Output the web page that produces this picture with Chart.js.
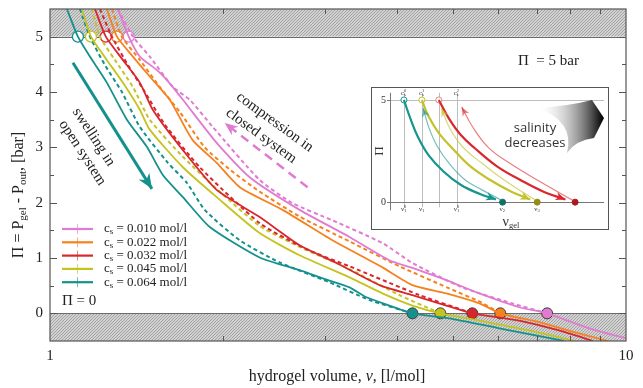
<!DOCTYPE html>
<html>
<head>
<meta charset="utf-8">
<script src="https://cdn.jsdelivr.net/npm/chart.js@4.4.1/dist/chart.umd.min.js"></script>
<style>
  html, body { margin: 0; padding: 0; background: #fff; }
  #wrap { position: relative; width: 643px; height: 388px; }
  #inset { position: absolute; left: 371px; top: 87px; }
</style>
</head>
<body>
<div id="wrap">
  <canvas id="mainChart" width="643" height="388"></canvas>
  <canvas id="inset" width="238" height="143"></canvas>
</div>
<script>
const SERIF = '"Liberation Serif", "DejaVu Serif", serif';
const SANS = '"Open Sans", "Noto Sans", sans-serif';

// salt concentration of each series, mol/l
const saltLabels = ['0.010', '0.022', '0.032', '0.045', '0.064'];
const lineColors = ['#e07bd0', '#f5821f', '#d9262c', '#c4c320', '#15918d'];

// swelling in open system (solid lines): [volume l/mol, Pi bar]
const swell010 = [[1.312,5.5],[1.37,5.0],[1.432,4.64],[1.532,4.4],[1.595,4.22],[1.701,3.86],[1.947,3.08],[2.222,2.46],[2.712,1.87],[3.311,1.38],[3.884,0.96],[4.258,0.82],[4.876,0.6],[5.563,0.36],[6.526,0.11],[7.296,0],[8.629,-0.27],[10,-0.45]];
const swell022 = [[1.255,5.5],[1.307,5.0],[1.393,4.64],[1.49,4.28],[1.614,3.86],[1.769,3.13],[1.947,2.72],[2.135,2.28],[2.534,1.87],[3.094,1.32],[3.777,0.83],[4.258,0.51],[4.876,0.36],[5.563,0.18],[6.05,0],[7.067,-0.16],[8.126,-0.34],[9.307,-0.5]];
const swell032 = [[1.197,5.5],[1.25,5.0],[1.338,4.58],[1.432,4.17],[1.508,3.68],[1.701,2.95],[1.947,2.23],[2.312,1.74],[2.712,1.23],[3.143,0.91],[3.732,0.51],[4.258,0.33],[4.876,0.14],[5.41,0],[6.526,-0.13],[7.655,-0.31],[8.767,-0.5]];
const swell045 = [[1.136,5.5],[1.178,5.0],[1.255,4.58],[1.338,4.17],[1.432,3.68],[1.49,3.32],[1.701,2.64],[1.947,2.1],[2.312,1.45],[2.712,1.05],[3.311,0.65],[3.777,0.36],[4.258,0.14],[4.761,0],[5.563,-0.13],[6.79,-0.31],[8.126,-0.5]];
const swell064 = [[1.07,5.5],[1.118,5.0],[1.173,4.64],[1.255,4.17],[1.36,3.5],[1.473,3.01],[1.57,2.5],[1.701,2.1],[1.894,1.56],[2.312,1.01],[2.712,0.78],[3.0,0.62],[3.311,0.47],[3.543,0.29],[3.884,0.14],[4.258,0],[4.935,-0.09],[6.026,-0.27],[7.808,-0.5]];

// compression in closed system (dashed lines)
const comp010 = [[1.312,5.5],[1.393,5.0],[1.49,4.64],[1.634,4.09],[1.748,3.86],[1.916,3.37],[2.312,2.41],[2.638,1.99],[3.094,1.68],[3.777,1.27],[4.258,0.91],[5.196,0.47],[6.346,0.18],[7.296,0]];
const comp022 = [[1.281,5.5],[1.333,5.0],[1.432,4.58],[1.551,4.09],[1.68,3.64],[1.856,3.0],[2.051,2.6],[2.312,2.2],[2.712,1.75],[3.311,1.3],[4.043,0.85],[4.935,0.45],[5.6,0.2],[6.05,0]];
const comp032 = [[1.221,5.5],[1.281,5.0],[1.365,4.49],[1.461,4.0],[1.583,3.41],[1.82,2.64],[2.312,1.63],[2.8,1.15],[3.311,0.85],[4.378,0.33],[5.41,0]];
const comp045 = [[1.182,5.5],[1.221,5.0],[1.296,4.58],[1.393,4.09],[1.49,3.5],[1.701,2.83],[1.995,2.15],[2.312,1.58],[2.712,1.2],[3.311,0.8],[4.043,0.33],[4.761,0]];
const comp064 = [[1.127,5.5],[1.173,5.0],[1.245,4.49],[1.333,4.0],[1.432,3.37],[1.602,2.72],[1.728,2.36],[1.856,1.87],[2.135,1.32],[2.504,0.92],[3.057,0.56],[3.586,0.24],[4.258,0]];

const swelling = [swell010, swell022, swell032, swell045, swell064];
const compression = [comp010, comp022, comp032, comp045, comp064];

// volumes where the curves meet Pi = 5 (open circles) and Pi = 0 (filled circles)
const volumeAt5 = [1.37, 1.307, 1.25, 1.178, 1.118];
const volumeAt0 = [7.296, 6.05, 5.41, 4.761, 4.258];

// annotation arrows
const swellArrow = [[1.096, 4.53], [1.503, 2.25]];
const compressArrow = [[2.80, 2.28], [2.011, 3.44]];

const xLabelTicks = [1, 10];
const xMinorTicks = [2, 3, 4, 5, 6, 7, 8, 9];
const yMajorTicks = [0, 1, 2, 3, 4, 5];
const yMinorTicks = [0.5, 1.5, 2.5, 3.5, 4.5];

// inset schematic
const insetMarks = [0.65, 1.49, 2.28, 3.12];
const insetAt5 = [0.65, 1.49, 2.28];
const insetAt0 = [5.26, 6.88, 8.65];
const insetTealDown = [[0.65,5],[0.95,4.1],[1.3,3.2],[1.8,2.3],[2.5,1.5],[3.3,0.85],[4.2,0.4],[4.95,0.13]];
const insetTealUp = [[5.2,0.1],[4.3,0.6],[3.5,1.1],[2.8,1.85],[2.2,2.75],[1.8,3.7],[1.55,4.6]];
const insetYellowDown = [[1.49,5],[1.8,4.2],[2.3,3.35],[2.9,2.65],[3.7,1.8],[4.7,1.07],[5.7,0.5],[6.55,0.13]];
const insetYellowUp = [[6.8,0.1],[5.35,1.07],[4.3,1.9],[3.4,2.7],[2.8,3.6],[2.4,4.6]];
const insetRedDown = [[2.28,5],[2.75,4.1],[3.3,3.3],[3.95,2.65],[5.0,1.75],[6.15,1.05],[7.2,0.5],[8.2,0.13]];
const insetRedUp = [[8.6,0.05],[6.9,1.07],[5.6,1.9],[4.6,2.67],[3.85,3.7],[3.35,4.65]];

const xy = arr => arr.map(p => ({ x: p[0], y: p[1] }));

function textRun(ctx, x, y, parts, align) {
  // parts: [text, size, dy, style, noAdvance]
  let w = 0;
  parts.forEach(p => {
    ctx.font = (p[3] || '') + ' ' + p[1] + 'px ' + SERIF;
    p.w = ctx.measureText(p[0]).width;
    if (!p[4]) w += p.w;
  });
  let cx = align === 'center' ? x - w / 2 : align === 'right' ? x - w : x;
  ctx.textAlign = 'left';
  parts.forEach(p => {
    ctx.font = (p[3] || '') + ' ' + p[1] + 'px ' + SERIF;
    ctx.fillText(p[0], cx, y + p[2]);
    if (!p[4]) cx += p.w;
  });
}

function arrowHead(ctx, x, y, angle, size, color) {
  ctx.save();
  ctx.translate(x, y);
  ctx.rotate(angle);
  ctx.fillStyle = color;
  ctx.beginPath();
  ctx.moveTo(0, 0);
  ctx.lineTo(-size, -size * 0.42);
  ctx.lineTo(-size * 0.7, 0);
  ctx.lineTo(-size, size * 0.42);
  ctx.closePath();
  ctx.fill();
  ctx.restore();
}

function drawArrowHeads(chart) {
  const ctx = chart.ctx;
  chart.data.datasets.forEach((ds, i) => {
    if (!ds.arrowHead) return;
    const pts = chart.getDatasetMeta(i).data;
    const a = pts[pts.length - 2], b = pts[pts.length - 1];
    arrowHead(ctx, b.x, b.y, Math.atan2(b.y - a.y, b.x - a.x), ds.arrowHead, ds.borderColor);
  });
}

function hatch(ctx) {
  const c = document.createElement('canvas');
  c.width = 3; c.height = 3;
  const g = c.getContext('2d');
  g.fillStyle = '#d2d2d2';
  g.fillRect(0, 0, 3, 3);
  g.fillStyle = '#a2a2a2';
  g.fillRect(0, 2, 1, 1); g.fillRect(1, 1, 1, 1); g.fillRect(2, 0, 1, 1);
  return ctx.createPattern(c, 'repeat');
}

const mainDecor = {
  id: 'mainDecor',
  beforeDatasetsDraw(chart) {
    const { ctx, chartArea: a, scales } = chart;
    const y5 = scales.y.getPixelForValue(5), y0 = scales.y.getPixelForValue(0);
    ctx.save();
    ctx.fillStyle = hatch(ctx);
    ctx.fillRect(a.left, a.top, a.right - a.left, y5 - a.top);
    ctx.fillRect(a.left, y0, a.right - a.left, a.bottom - y0);
    ctx.strokeStyle = '#6b6b6b';
    ctx.lineWidth = 1;
    ctx.beginPath();
    ctx.moveTo(a.left, Math.round(y5) + 0.5); ctx.lineTo(a.right, Math.round(y5) + 0.5);
    ctx.moveTo(a.left, Math.round(y0) + 0.5); ctx.lineTo(a.right, Math.round(y0) + 0.5);
    ctx.stroke();
    ctx.restore();
  },
  afterDatasetsDraw(chart) {
    const { ctx, chartArea: a, scales } = chart;
    drawArrowHeads(chart);
    ctx.save();
    // frame and inward ticks
    ctx.strokeStyle = '#555';
    ctx.lineWidth = 1.2;
    ctx.strokeRect(a.left, a.top, a.right - a.left, a.bottom - a.top);
    ctx.lineWidth = 1;
    ctx.beginPath();
    xMinorTicks.forEach(v => {
      const px = Math.round(scales.x.getPixelForValue(v)) + 0.5;
      ctx.moveTo(px, a.bottom); ctx.lineTo(px, a.bottom - 5);
      ctx.moveTo(px, a.top); ctx.lineTo(px, a.top + 5);
    });
    yMajorTicks.concat(yMinorTicks).forEach(v => {
      const len = Number.isInteger(v) ? 7 : 4;
      const py = Math.round(scales.y.getPixelForValue(v)) + 0.5;
      ctx.moveTo(a.left, py); ctx.lineTo(a.left + len, py);
      ctx.moveTo(a.right, py); ctx.lineTo(a.right - len, py);
    });
    ctx.stroke();

    ctx.fillStyle = '#222';
    ctx.textBaseline = 'middle';
    // text annotations
    ctx.font = '15px ' + SERIF;
    ctx.textAlign = 'left';
    ctx.fillText('\u03A0  = 5 bar', 518, 61);
    ctx.fillText('\u03A0 = 0', 62, 301);

    ctx.save();
    ctx.translate(88, 145);
    ctx.rotate(57 * Math.PI / 180);
    ctx.textAlign = 'center';
    ctx.fillText('swelling in', -3.5, -9);
    ctx.fillText('open system', 3.5, 9);
    ctx.restore();

    ctx.save();
    ctx.translate(268, 129);
    ctx.rotate(36 * Math.PI / 180);
    ctx.textAlign = 'center';
    ctx.fillText('compression in', 1.5, -9.5);
    ctx.fillText('closed system', -1.5, 9.5);
    ctx.restore();

    // legend
    saltLabels.forEach((lab, i) => {
      const y = 229 + i * 13.3;
      ctx.strokeStyle = lineColors[i];
      ctx.lineWidth = 2.2;
      ctx.beginPath();
      ctx.moveTo(62, y); ctx.lineTo(93, y);
      ctx.stroke();
      ctx.lineWidth = 1;
      ctx.globalAlpha = 0.6;
      ctx.beginPath();
      ctx.moveTo(77.5, y - 5); ctx.lineTo(77.5, y + 5);
      ctx.stroke();
      ctx.globalAlpha = 1;
      textRun(ctx, 104, y, [['c', 13, 0], ['s', 9, 3], [' = ' + lab + ' mol/l', 13, 0]], 'left');
    });
    ctx.restore();
  },
  afterDraw(chart) {
    const ctx = chart.ctx;
    ctx.save();
    ctx.fillStyle = '#222';
    ctx.textBaseline = 'middle';
    // y title
    ctx.save();
    ctx.translate(19, 195);
    ctx.rotate(-Math.PI / 2);
    textRun(ctx, 0, 0, [['\u03A0 = P', 16, 0], ['gel', 11, 4], [' - P', 16, 0], ['out', 11, 4], [', [bar]', 16, 0]], 'center');
    ctx.restore();
    // x title
    textRun(ctx, 337, 377, [['hydrogel volume, ', 16, 0], ['\u03BD', 16, 0, 'italic'], [', [l/mol]', 16, 0]], 'center');
    ctx.restore();
  }
};

const mainSets = [];
swelling.forEach((d, i) => mainSets.push({
  data: xy(d), showLine: true, borderColor: lineColors[i], borderWidth: 1.8, pointRadius: 0, tension: 0.2
}));
compression.forEach((d, i) => mainSets.push({
  data: xy(d), showLine: true, borderColor: lineColors[i], borderWidth: 2, borderDash: [4, 3], pointRadius: 0, tension: 0.2
}));
mainSets.push({
  data: volumeAt5.map(v => ({ x: v, y: 5 })), pointRadius: 5.5,
  pointBackgroundColor: '#ffffff', pointBorderColor: lineColors, pointBorderWidth: 1.3
});
mainSets.push({
  data: volumeAt0.map(v => ({ x: v, y: 0 })), pointRadius: 5.5,
  pointBackgroundColor: lineColors, pointBorderColor: '#3a3a3a', pointBorderWidth: 1
});
mainSets.push({ data: xy(swellArrow), showLine: true, borderColor: '#15918d', borderWidth: 3, pointRadius: 0, arrowHead: 15 });
mainSets.push({ data: xy(compressArrow), showLine: true, borderColor: '#e07bd0', borderWidth: 2.5, borderDash: [9, 6], pointRadius: 0, arrowHead: 13 });

new Chart(document.getElementById('mainChart').getContext('2d'), {
  type: 'scatter',
  data: { datasets: mainSets },
  options: {
    responsive: false,
    animation: false,
    events: [],
    layout: { padding: { top: 9, right: 17, left: 0, bottom: 0 } },
    plugins: { legend: { display: false }, tooltip: { enabled: false } },
    scales: {
      x: {
        type: 'logarithmic', min: 1, max: 10,
        grid: { display: false, drawTicks: false },
        border: { display: false },
        afterBuildTicks: s => { s.ticks = xLabelTicks.map(v => ({ value: v })); },
        ticks: { autoSkip: false, maxRotation: 0, padding: 6, color: '#222', font: { family: SERIF, size: 15 }, callback: v => String(v) },
        afterFit: s => { s.height = 47; s.paddingLeft = 0; s.paddingRight = 0; }
      },
      y: {
        min: -0.5, max: 5.5,
        grid: { display: false, drawTicks: false },
        border: { display: false },
        afterBuildTicks: s => { s.ticks = yMajorTicks.map(v => ({ value: v })); },
        ticks: { padding: 7, color: '#222', font: { family: SERIF, size: 15 }, callback: v => String(v) },
        afterFit: s => { s.width = 50; s.paddingTop = 0; s.paddingBottom = 0; }
      }
    }
  },
  plugins: [mainDecor]
});

// ---------- inset ----------
const insetColors = ['#17958f', '#c4c22a', '#d9282c'];
const insetThin = ['rgba(23,149,143,0.6)', 'rgba(196,194,42,0.65)', 'rgba(217,40,44,0.6)'];
const insetDots = ['#0f6f6a', '#8f8d16', '#a51b1e'];

const insetDecor = {
  id: 'insetDecor',
  beforeDraw(chart) {
    const { ctx, width, height } = chart;
    ctx.save();
    ctx.fillStyle = '#fff';
    ctx.fillRect(0, 0, width, height);
    ctx.restore();
  },
  beforeDatasetsDraw(chart) {
    const { ctx, scales } = chart;
    const x = scales.x, y = scales.y;
    const x0 = x.getPixelForValue(0), x10 = x.getPixelForValue(10);
    const y0 = y.getPixelForValue(0), y5 = y.getPixelForValue(5);
    ctx.save();
    ctx.lineWidth = 1;
    ctx.strokeStyle = '#bdbdbd';
    ctx.beginPath();
    ctx.moveTo(x0, Math.round(y5) + 0.5); ctx.lineTo(x10, Math.round(y5) + 0.5);
    insetMarks.forEach(v => {
      const px = Math.round(x.getPixelForValue(v)) + 0.5;
      ctx.moveTo(px, y.getPixelForValue(5.35)); ctx.lineTo(px, y.getPixelForValue(-0.25));
    });
    ctx.stroke();
    ctx.strokeStyle = '#777';
    ctx.beginPath();
    ctx.moveTo(Math.round(x0) + 0.5, y.getPixelForValue(5.35)); ctx.lineTo(Math.round(x0) + 0.5, y.getPixelForValue(-0.4));
    ctx.moveTo(x0 - 3, Math.round(y0) + 0.5); ctx.lineTo(x10, Math.round(y0) + 0.5);
    ctx.moveTo(x0 - 3, Math.round(y5) + 0.5); ctx.lineTo(x0, Math.round(y5) + 0.5);
    ctx.stroke();

    ctx.fillStyle = '#333';
    ctx.textBaseline = 'middle';
    ctx.font = '10px ' + SERIF;
    ctx.textAlign = 'right';
    ctx.fillText('5', x0 - 4, y5);
    ctx.fillText('0', x0 - 4, y0);
    ctx.save();
    ctx.translate(9, y.getPixelForValue(2.5));
    ctx.rotate(-Math.PI / 2);
    ctx.textAlign = 'center';
    ctx.font = '13px ' + SERIF;
    ctx.fillText('\u03A0', 0, 0);
    ctx.restore();

    // small labels along the inner axes
    const top = [['0', insetMarks[0]], ['1', insetMarks[1]], ['2', insetMarks[3]]];
    top.forEach(t => {
      const px = x.getPixelForValue(t[1]);
      textRun(ctx, px - 3, 6, [['c', 7, 0], [t[0], 4.5, -2.5, '', true], ['s', 4.5, 2]], 'left');
    });
    const bottom = [[insetMarks[0], '1', '0'], [insetMarks[1], '1', ''], [insetMarks[3], '1', '0'], [insetAt0[0], '2', ''], [insetAt0[1], '3', '']];
    bottom.forEach(b => {
      const px = x.getPixelForValue(b[0]);
      textRun(ctx, px - 3, y0 + 7, [['\u03BD', 7, 0], [b[2], 4.5, -2.5, '', true], [b[1], 4.5, 2]], 'left');
    });
    textRun(ctx, x.getPixelForValue(5.65), 135, [['\u03BD', 14, 0], ['gel', 8.5, 4]], 'center');

    // salinity gradient wedge
    const g = ctx.createLinearGradient(165, 0, 232, 0);
    g.addColorStop(0, 'rgba(255,255,255,0)');
    g.addColorStop(1, 'rgba(0,0,0,1)');
    ctx.fillStyle = g;
    ctx.beginPath();
    ctx.moveTo(166, 21);
    ctx.quadraticCurveTo(198, 19, 221, 13);
    ctx.lineTo(233, 31);
    ctx.lineTo(223, 51);
    ctx.quadraticCurveTo(205, 53, 196, 66);
    ctx.quadraticCurveTo(204, 34, 166, 21);
    ctx.closePath();
    ctx.fill();

    ctx.fillStyle = '#333';
    ctx.textAlign = 'center';
    ctx.font = '13px ' + SANS;
    ctx.fillText('salinity', 164, 41);
    ctx.fillText('decreases', 164, 56);
    ctx.restore();
  },
  afterDatasetsDraw(chart) {
    const { ctx, width, height } = chart;
    drawArrowHeads(chart);
    ctx.save();
    ctx.strokeStyle = '#555';
    ctx.lineWidth = 1;
    ctx.strokeRect(0.5, 0.5, width - 1, height - 1);
    ctx.restore();
  }
};

const insetSets = [];
[insetTealDown, insetYellowDown, insetRedDown].forEach((d, i) => insetSets.push({
  data: xy(d), showLine: true, borderColor: insetColors[i], borderWidth: 2.2, pointRadius: 0, tension: 0.4, arrowHead: 10
}));
[insetTealUp, insetYellowUp, insetRedUp].forEach((d, i) => insetSets.push({
  data: xy(d), showLine: true, borderColor: insetThin[i], borderWidth: 1.2, pointRadius: 0, tension: 0.4, arrowHead: 9
}));
insetSets.push({
  data: insetAt5.map(v => ({ x: v, y: 5 })), pointRadius: 3,
  pointBackgroundColor: '#fff', pointBorderColor: ['#17958f', '#c4c22a', '#e08a8a'], pointBorderWidth: 1
});
insetSets.push({
  data: insetAt0.map(v => ({ x: v, y: 0 })), pointRadius: 3,
  pointBackgroundColor: insetDots, pointBorderColor: insetDots, pointBorderWidth: 1
});

new Chart(document.getElementById('inset').getContext('2d'), {
  type: 'scatter',
  data: { datasets: insetSets },
  options: {
    responsive: false,
    animation: false,
    events: [],
    layout: { padding: { left: 19, right: 4, top: 4, bottom: 16 } },
    plugins: { legend: { display: false }, tooltip: { enabled: false } },
    scales: {
      x: { display: false, min: 0, max: 10 },
      y: { display: false, min: -0.58, max: 5.39 }
    }
  },
  plugins: [insetDecor]
});
</script>
</body>
</html>
